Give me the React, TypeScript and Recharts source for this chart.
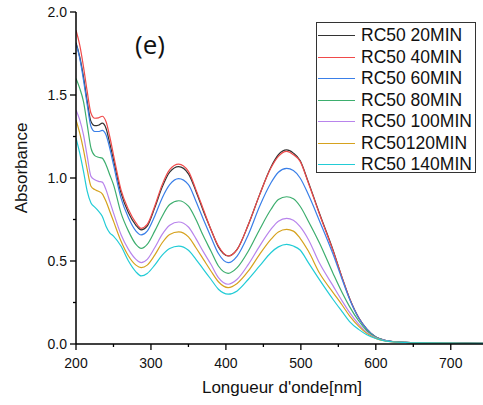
import { LineChart, Line, XAxis, YAxis, Legend } from 'recharts';

const wavelengths = [
    200, 205, 210, 215, 220, 225, 230, 235, 240, 245,
    250, 260, 270, 280, 287, 295, 305, 315, 325, 337,
    350, 360, 370, 380, 390, 403, 415, 430, 445, 460,
    470, 481, 490, 499, 510, 525, 543, 555, 565, 577,
    588, 600, 612, 625, 640, 660, 700, 743,
];

const rc20 = [
    1.815, 1.73, 1.61, 1.46, 1.34, 1.315, 1.318, 1.33, 1.3, 1.21,
    1.11, 0.91, 0.79, 0.715, 0.687, 0.71, 0.82, 0.945, 1.035, 1.068,
    1.025, 0.92, 0.8, 0.69, 0.585, 0.53, 0.57, 0.72, 0.9, 1.065,
    1.14, 1.169, 1.15, 1.105, 0.975, 0.785, 0.565, 0.4, 0.275, 0.16,
    0.09, 0.042, 0.022, 0.014, 0.01, 0.008, 0.006, 0.004,
];
const rc40 = [
    1.89, 1.8, 1.67, 1.52, 1.39, 1.36, 1.362, 1.372, 1.34, 1.25,
    1.14, 0.93, 0.81, 0.73, 0.697, 0.72, 0.83, 0.96, 1.05, 1.084,
    1.04, 0.93, 0.81, 0.69, 0.59, 0.53, 0.57, 0.72, 0.9, 1.06,
    1.13, 1.16, 1.14, 1.1, 0.97, 0.78, 0.56, 0.4, 0.275, 0.16,
    0.09, 0.042, 0.022, 0.014, 0.01, 0.008, 0.006, 0.004,
];
const rc60 = [
    1.81, 1.72, 1.59, 1.44, 1.31, 1.28, 1.28, 1.287, 1.26, 1.18,
    1.08, 0.88, 0.76, 0.68, 0.657, 0.68, 0.77, 0.88, 0.96, 0.996,
    0.96, 0.86, 0.75, 0.645, 0.545, 0.49, 0.53, 0.66, 0.83, 0.97,
    1.035, 1.058, 1.045, 1.0, 0.9, 0.74, 0.54, 0.39, 0.27, 0.158,
    0.09, 0.042, 0.022, 0.014, 0.01, 0.008, 0.006, 0.004,
];
const rc80 = [
    1.6, 1.54, 1.46, 1.32, 1.18, 1.135, 1.125, 1.12, 1.08, 1.02,
    0.96, 0.79, 0.68, 0.6, 0.576, 0.6, 0.68, 0.77, 0.84, 0.863,
    0.83, 0.75, 0.65, 0.56, 0.47, 0.426, 0.46, 0.56, 0.69, 0.81,
    0.87, 0.887, 0.875, 0.83, 0.74, 0.607, 0.425, 0.31, 0.225, 0.14,
    0.08, 0.04, 0.021, 0.013, 0.01, 0.008, 0.006, 0.004,
];
const rc100 = [
    1.41, 1.35, 1.26, 1.13, 1.01, 0.99, 0.98, 0.975, 0.93, 0.86,
    0.79, 0.66, 0.57, 0.51, 0.49, 0.51, 0.58, 0.66, 0.715, 0.735,
    0.705, 0.635, 0.555, 0.48, 0.4, 0.36, 0.39, 0.48, 0.59, 0.69,
    0.74, 0.757, 0.745, 0.707, 0.63, 0.486, 0.35, 0.26, 0.19, 0.12,
    0.07, 0.037, 0.02, 0.012, 0.009, 0.007, 0.005, 0.004,
];
const rc120 = [
    1.35, 1.27, 1.17, 1.05, 0.95, 0.93, 0.92, 0.905, 0.86, 0.8,
    0.74, 0.62, 0.53, 0.475, 0.46, 0.475, 0.535, 0.61, 0.66, 0.675,
    0.645, 0.58, 0.51, 0.44, 0.375, 0.34, 0.365, 0.44, 0.54, 0.63,
    0.675, 0.69, 0.68, 0.637, 0.56, 0.426, 0.31, 0.235, 0.17, 0.108,
    0.064, 0.034, 0.018, 0.012, 0.009, 0.007, 0.005, 0.004,
];
const rc140 = [
    1.24, 1.15, 1.04, 0.92, 0.85, 0.825, 0.8, 0.77, 0.71, 0.67,
    0.65, 0.59, 0.5, 0.435, 0.41, 0.425, 0.475, 0.535, 0.575, 0.59,
    0.565, 0.51, 0.45, 0.39, 0.33, 0.3, 0.32, 0.39, 0.47, 0.55,
    0.585, 0.6, 0.59, 0.566, 0.49, 0.386, 0.268, 0.195, 0.135, 0.088,
    0.056, 0.033, 0.019, 0.012, 0.009, 0.007, 0.005, 0.004,
];

const seriesNames = ['RC50 20MIN', 'RC50 40MIN', 'RC50 60MIN', 'RC50 80MIN', 'RC50 100MIN', 'RC50120MIN', 'RC50 140MIN'];
const seriesValues = [rc20, rc40, rc60, rc80, rc100, rc120, rc140];
const seriesColors = ['#333333', '#f04a4a', '#3a7fe8', '#3dae6e', '#b884ec', '#d6a21e', '#22ccd6'];

const xTicks = [200, 250, 300, 350, 400, 450, 500, 550, 600, 650, 700];
const yTicks = [0, 0.25, 0.5, 0.75, 1.0, 1.25, 1.5, 1.75, 2.0];

const data = wavelengths.map((w, i) => {
    const row: { [key: string]: number } = { nm: w };
    seriesValues.forEach((vals, s) => {
        row[`s${s}`] = vals[i];
    });
    return row;
});

const FONT = '"Liberation Sans", Arial, sans-serif';

const XTick = ({ x, y, payload }: any) => {
    const major = payload.value % 100 === 0;
    return (
        <g>
            <line x1={x} x2={x} y1={y} y2={y + (major ? 6 : 3)} stroke='#000' strokeWidth={1.3} />
            {major && (
                <text x={x} y={y + 23.5} textAnchor='middle' fontSize={14} fontFamily={FONT} fill='#111'>
                    {payload.value}
                </text>
            )}
        </g>
    );
};

const YTick = ({ x, y, payload }: any) => {
    const major = Math.round(payload.value * 100) % 50 === 0;
    return (
        <g>
            <line x1={x} x2={x - (major ? 6 : 3)} y1={y} y2={y} stroke='#000' strokeWidth={1.3} />
            {major && (
                <text x={x - 9} y={y} dy='0.35em' textAnchor='end' fontSize={14} fontFamily={FONT} fill='#111'>
                    {payload.value.toFixed(1)}
                </text>
            )}
        </g>
    );
};

// legend drawn in the series order (recharts would sort it by name)
const LegendBox = () => (
    <div
        style={{
            border: '1px solid #333',
            width: 160,
            height: 151,
            paddingTop: 2,
            boxSizing: 'border-box',
            background: '#fff',
            fontFamily: FONT,
            fontSize: 17.5,
            color: '#111',
        }}
    >
        {seriesNames.map((name, s) => (
            <div key={name} style={{ display: 'flex', alignItems: 'center', height: 21.5, whiteSpace: 'nowrap' }}>
                <span style={{ marginLeft: 1, width: 37, height: 0, borderTop: `1.5px solid ${seriesColors[s]}` }} />
                <span style={{ marginLeft: 6 }}>{name}</span>
            </div>
        ))}
    </div>
);

export default function App() {
    return (
        <div style={{ position: 'absolute', left: 0, top: 0, width: 483, height: 405, background: '#fff' }}>
            <LineChart width={483} height={405} data={data} margin={{ top: 12, right: 0, bottom: 0, left: 0 }}>
                <XAxis
                    dataKey='nm'
                    type='number'
                    domain={[200, 743]}
                    ticks={xTicks}
                    allowDataOverflow
                    height={61}
                    tickSize={0}
                    tickMargin={0}
                    tickLine={false}
                    tick={<XTick />}
                    axisLine={{ stroke: '#000', strokeWidth: 1.5 }}
                    interval={0}
                />
                <YAxis
                    type='number'
                    domain={[0, 2]}
                    ticks={yTicks}
                    width={76}
                    tickSize={0}
                    tickMargin={0}
                    tickLine={false}
                    tick={<YTick />}
                    axisLine={{ stroke: '#000', strokeWidth: 1.5 }}
                    interval={0}
                />
                <Legend
                    layout='horizontal'
                    verticalAlign='middle'
                    align='center'
                    content={<LegendBox />}
                    wrapperStyle={{ top: 22, left: 316, width: 160, height: 151 }}
                />
                {seriesNames.map((name, s) => (
                    <Line
                        key={name}
                        name={name}
                        dataKey={`s${s}`}
                        type='monotone'
                        stroke={seriesColors[s]}
                        strokeWidth={1.2}
                        dot={false}
                        activeDot={false}
                        isAnimationActive={false}
                    />
                ))}
            </LineChart>
            <svg
                width={483}
                height={405}
                style={{ position: 'absolute', left: 0, top: 0, pointerEvents: 'none' }}
            >
                <text x={150} y={54} textAnchor='middle' fontSize={26} fontFamily='"Open Sans", sans-serif' fill='#111'>
                    (e)
                </text>
                <text x={282} y={393} textAnchor='middle' fontSize={17} fontFamily={FONT} fill='#111'>
                    Longueur d'onde[nm]
                </text>
                <text
                    x={27}
                    y={168}
                    transform='rotate(-90 27 168)'
                    textAnchor='middle'
                    fontSize={17}
                    fontFamily={FONT}
                    fill='#111'
                >
                    Absorbance
                </text>
            </svg>
        </div>
    );
}
